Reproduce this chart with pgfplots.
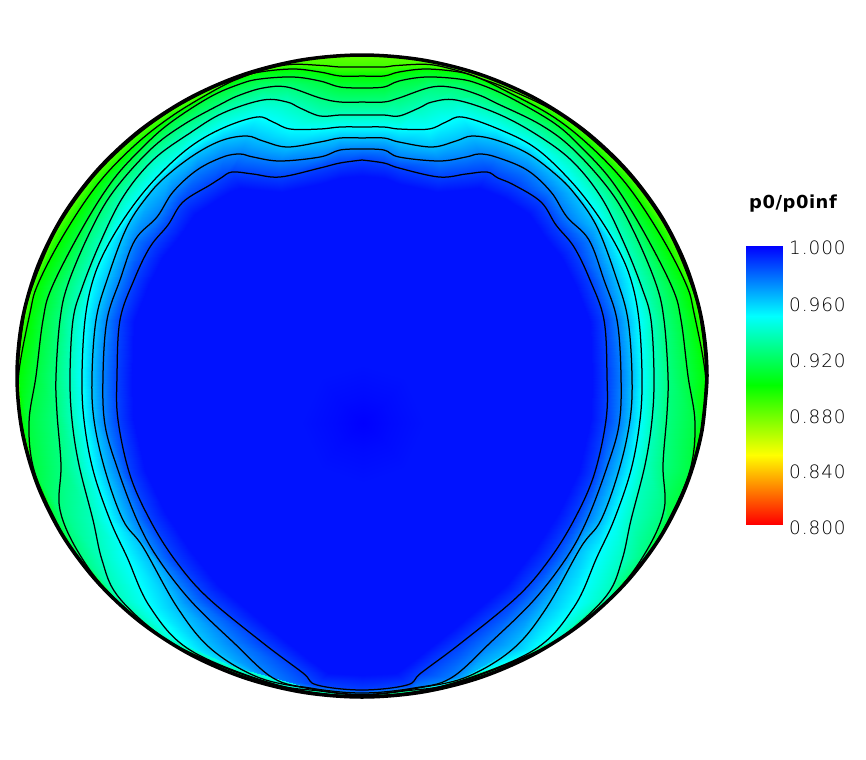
\documentclass[border=0pt]{standalone}
\usepackage{pgfplots}
\usepackage{pgfplotstable}
\usepackage{fontspec}
\setmainfont{DejaVu Sans}
\newfontfamily\thinf[LetterSpace=5]{DejaVu Sans ExtraLight}
\pgfplotsset{compat=1.18}
\pgfplotstableread[row sep=\\]{x y v\\
362 176 .9965\\340 178 .9965\\320 184 .9965\\282 192 .9965\\258 190 .9965\\240 188 .9965\\230 192 .9965\\220 198 .9965\\195 214 .9965\\180 236 .9965\\163 257 .9965\\148 286 .9965\\134 322 .9965\\132 376 .9965\\133 418 .9965\\145 470 .9965\\165 512 .9965\\190 550 .9965\\218 585 .9965\\272 630 .9965\\310 660 .9965\\328 673 .9965\\362 675 .9965\\
396 673 .9965\\414 660 .9965\\452 630 .9965\\506 585 .9965\\534 550 .9965\\559 512 .9965\\579 470 .9965\\591 418 .9965\\592 376 .9965\\590 322 .9965\\576 286 .9965\\561 257 .9965\\544 236 .9965\\529 214 .9965\\504 198 .9965\\489 192 .9965\\479 188 .9965\\461 190 .9965\\437 192 .9965\\399 184 .9965\\384 178 .9965\\362 176 .9965\\
}\Rzero
\pgfplotstableread[row sep=\\]{x y v\\
362 160 .9875\\340 163 .9875\\320 168 .9875\\280 177 .9875\\253 174 .9875\\232 172 .9875\\221 178 .9875\\210 185 .9875\\183 202 .9875\\168 225 .9875\\150 247 .9875\\134 280 .9875\\120 320 .9875\\117 376 .9875\\118 420 .9875\\130 475 .9875\\150 520 .9875\\175 560 .9875\\207 597 .9875\\263 643 .9875\\303 673 .9875\\317 685 .9875\\362 690 .9875\\
407 685 .9875\\421 673 .9875\\461 643 .9875\\517 597 .9875\\549 560 .9875\\574 520 .9875\\594 475 .9875\\606 420 .9875\\607 376 .9875\\604 320 .9875\\590 280 .9875\\574 247 .9875\\556 225 .9875\\541 202 .9875\\514 185 .9875\\498 178 .9875\\487 172 .9875\\466 174 .9875\\439 177 .9875\\399 168 .9875\\384 163 .9875\\362 160 .9875\\
}\Lone
\pgfplotstableread[row sep=\\]{x y v\\
362 149 .975\\340 150 .975\\320 157 .975\\280 161 .975\\253 157 .975\\240 154 .975\\223 157 .975\\197 170 .975\\173 192 .975\\157 217 .975\\135 240 .975\\120 280 .975\\107 320 .975\\103 376 .975\\105 425 .975\\118 470 .975\\137 520 .975\\157 557 .975\\190 600 .975\\233 642 .975\\273 678 .975\\310 688 .975\\362 693 .975\\
414 688 .975\\451 678 .975\\491 642 .975\\534 600 .975\\567 557 .975\\587 520 .975\\606 470 .975\\619 425 .975\\621 376 .975\\617 320 .975\\604 280 .975\\589 240 .975\\567 217 .975\\551 192 .975\\527 170 .975\\496 157 .975\\479 154 .975\\466 157 .975\\439 161 .975\\399 157 .975\\384 150 .975\\362 149 .975\\
}\Ltwo
\pgfplotstableread[row sep=\\]{x y v\\
362 138 .9625\\340 138 .9625\\320 142 .9625\\287 147 .9625\\263 141 .9625\\247 136 .9625\\223 140 .9625\\197 153 .9625\\170 173 .9625\\150 193 .9625\\127 227 .9625\\107 280 .9625\\96 320 .9625\\92 376 .9625\\94 420 .9625\\105 470 .9625\\123 520 .9625\\143 547 .9625\\177 607 .9625\\210 648 .9625\\255 676 .9625\\300 687 .9625\\362 694.5 .9625\\
424 687 .9625\\469 676 .9625\\514 648 .9625\\547 607 .9625\\581 547 .9625\\601 520 .9625\\619 470 .9625\\630 420 .9625\\632 376 .9625\\628 320 .9625\\617 280 .9625\\597 227 .9625\\574 193 .9625\\554 173 .9625\\527 153 .9625\\496 140 .9625\\472 136 .9625\\456 141 .9625\\432 147 .9625\\399 142 .9625\\384 138 .9625\\362 138 .9625\\
}\Lthree
\pgfplotstableread[row sep=\\]{x y v\\
362 127 .95\\340 127 .95\\320 129 .95\\290 129 .95\\273 122 .95\\257 117 .95\\223 128 .95\\190 147 .95\\157 177 .95\\130 210 .95\\107 247 .95\\93 280 .95\\85 320 .95\\82 376 .95\\84 420 .95\\93 470 .95\\110 520 .95\\127 557 .95\\150 607 .95\\190 650 .95\\270 683 .95\\320 691 .95\\362 695 .95\\
404 691 .95\\454 683 .95\\534 650 .95\\574 607 .95\\597 557 .95\\614 520 .95\\631 470 .95\\640 420 .95\\642 376 .95\\639 320 .95\\631 280 .95\\617 247 .95\\594 210 .95\\567 177 .95\\534 147 .95\\496 128 .95\\462 117 .95\\446 122 .95\\429 129 .95\\399 129 .95\\384 127 .95\\362 127 .95\\
}\Lfour
\pgfplotstableread[row sep=\\]{x y v\\
362 115 .9375\\340 115 .9375\\320 116 .9375\\300 108 .9375\\287 102 .9375\\263 100 .9375\\223 113 .9375\\190 133 .9375\\153 160 .9375\\123 197 .9375\\100 243 .9375\\82 288 .9375\\73 320 .9375\\70 376 .9375\\72 420 .9375\\79 465 .9375\\93 520 .9375\\102 560 .9375\\117 595 .9375\\157 633 .9375\\200 657 .9375\\280 686 .9375\\362 696 .9375\\
444 686 .9375\\524 657 .9375\\567 633 .9375\\607 595 .9375\\622 560 .9375\\631 520 .9375\\645 465 .9375\\652 420 .9375\\654 376 .9375\\651 320 .9375\\642 288 .9375\\624 243 .9375\\601 197 .9375\\571 160 .9375\\534 133 .9375\\496 113 .9375\\456 100 .9375\\432 102 .9375\\419 108 .9375\\399 116 .9375\\384 115 .9375\\362 115 .9375\\
}\Lfive
\pgfplotstableread[row sep=\\]{x y v\\
362 102 .925\\340 102 .925\\320 98 .925\\287 87 .925\\263 88 .925\\240 95 .925\\223 103 .925\\183 125 .925\\150 150 .925\\113 192 .925\\90 232 .925\\68 284 .925\\60 320 .925\\56 376 .925\\57 413 .925\\61 465 .925\\60 510 .925\\80 555 .925\\113 597 .925\\168 641 .925\\228 669 .925\\300 690.5 .925\\362 696 .925\\
424 690.5 .925\\496 669 .925\\556 641 .925\\611 597 .925\\644 555 .925\\664 510 .925\\663 465 .925\\667 413 .925\\668 376 .925\\664 320 .925\\656 284 .925\\634 232 .925\\611 192 .925\\574 150 .925\\541 125 .925\\496 103 .925\\479 95 .925\\456 88 .925\\432 87 .925\\399 98 .925\\384 102 .925\\362 102 .925\\
}\Lsix
\pgfplotstableread[row sep=\\]{x y v\\
362 88 .9125\\340 87 .9125\\320 81 .9125\\293 77 .9125\\260 79 .9125\\240 84 .9125\\210 97 .9125\\170 123 .9125\\143 147 .9125\\113 180 .9125\\83 227 .9125\\52 287 .9125\\43 320 .9125\\36 376 .9125\\29 423 .9125\\34 470 .9125\\56 521 .9125\\78 556 .9125\\116 600 .9125\\167 640.5 .9125\\225 670 .9125\\300 691 .9125\\362 696.5 .9125\\
424 691 .9125\\499 670 .9125\\557 640.5 .9125\\608 600 .9125\\646 556 .9125\\668 521 .9125\\690 470 .9125\\695 423 .9125\\688 376 .9125\\681 320 .9125\\672 287 .9125\\641 227 .9125\\611 180 .9125\\581 147 .9125\\554 123 .9125\\509 97 .9125\\479 84 .9125\\459 79 .9125\\426 77 .9125\\399 81 .9125\\384 87 .9125\\362 88 .9125\\
}\Lseven
\pgfplotstableread[row sep=\\]{x y v\\
362 76 .9\\340 76 .9\\320 72 .9\\293 69 .9\\260 72 .9\\240 78 .9\\215 90 .9\\172 116 .9\\134 146 .9\\97 185 .9\\63 236 .9\\38 284 .9\\30 313 .9\\18.5 376 .9\\21 420 .9\\34 472 .9\\55 521 .9\\77 556 .9\\115.5 600 .9\\166.5 640.5 .9\\224.5 670 .9\\300 691.5 .9\\362 696.5 .9\\
424 691.5 .9\\499.5 670 .9\\557.5 640.5 .9\\608.5 600 .9\\647 556 .9\\669 521 .9\\690 472 .9\\703 420 .9\\705.5 376 .9\\694 313 .9\\686 284 .9\\661 236 .9\\627 185 .9\\590 146 .9\\552 116 .9\\504 90 .9\\479 78 .9\\459 72 .9\\426 69 .9\\399 72 .9\\384 76 .9\\362 76 .9\\
}\Leight
\pgfplotstableread[row sep=\\]{x y v\\
362 67 .8875\\340 67 .8875\\322 65.5 .8875\\290 64.5 .8875\\262 70.5 .8875\\237 79 .8875\\212 88.5 .8875\\171 110.5 .8875\\131 140 .8875\\91 180 .8875\\56 231 .8875\\31 290 .8875\\22.5 327 .8875\\18 376 .8875\\20.5 420 .8875\\33.5 472 .8875\\54.5 520.5 .8875\\76.5 555.5 .8875\\115 600 .8875\\166 640 .8875\\224 670 .8875\\300 691.5 .8875\\362 696.5 .8875\\
424 691.5 .8875\\500 670 .8875\\558 640 .8875\\609 600 .8875\\647.5 555.5 .8875\\669.5 520.5 .8875\\690.5 472 .8875\\703.5 420 .8875\\706 376 .8875\\701.5 327 .8875\\693 290 .8875\\668 231 .8875\\633 180 .8875\\593 140 .8875\\553 110.5 .8875\\507 88.5 .8875\\482 79 .8875\\457 70.5 .8875\\429 64.5 .8875\\397 65.5 .8875\\384 67 .8875\\362 67 .8875\\
}\Lnine
\pgfplotstableread[row sep=\\]{x y v\\
362 55 .880\\340 55.3 .881\\320 57.4 .882\\285 63.1 .884\\260 69.3 .884\\235 77.5 .885\\210 87.8 .885\\170 109.3 .885\\130 138.4 .885\\90 178.5 .885\\55 229.6 .885\\30 290 .885\\21 327 .887\\17 376 .895\\20 420 .895\\33 472 .905\\54 520 .915\\76 555 .92\\115 600 .935\\166 640 .945\\224 670 .955\\300 692 .96\\362 697 .965\\
424 692 .96\\500 670 .955\\558 640 .945\\609 600 .935\\648 555 .92\\670 520 .915\\691 472 .905\\704 420 .895\\707 376 .895\\703 327 .887\\694 290 .885\\669 229.6 .885\\634 178.5 .885\\594 138.4 .885\\554 109.3 .885\\514 87.8 .885\\489 77.5 .885\\464 69.3 .884\\439 63.1 .884\\404 57.4 .882\\384 55.3 .881\\362 55 .880\\
}\Bound
\pgfplotstableread[row sep=\\]{x y\\
707 376\\701.8 431.7\\686.2 485.8\\660.8 536.5\\626.3 582.3\\583.8 621.9\\534.5 654\\480 677.6\\421.9 692.1\\362 697\\302.1 692.1\\244 677.6\\189.5 654\\140.2 621.9\\97.7 582.3\\63.2 536.5\\37.8 485.8\\22.2 431.7\\17 376\\22.2 320.3\\37.8 266.2\\63.2 215.5\\97.7 169.7\\140.2 130.1\\189.5 98\\244 74.4\\302.1 59.9\\362 55\\421.9 59.9\\480 74.4\\534.5 98\\583.8 130.1\\626.3 169.7\\660.8 215.5\\686.2 266.2\\701.8 320.3\\707 376\\701.8 431.7\\
}\Rim
\pgfplotstablevertcat{\Mesh}{\Rzero}
\pgfplotstablevertcat{\Mesh}{\Lone}
\pgfplotstablevertcat{\Mesh}{\Ltwo}
\pgfplotstablevertcat{\Mesh}{\Lthree}
\pgfplotstablevertcat{\Mesh}{\Lfour}
\pgfplotstablevertcat{\Mesh}{\Lfive}
\pgfplotstablevertcat{\Mesh}{\Lsix}
\pgfplotstablevertcat{\Mesh}{\Lseven}
\pgfplotstablevertcat{\Mesh}{\Leight}
\pgfplotstablevertcat{\Mesh}{\Lnine}
\pgfplotstablevertcat{\Mesh}{\Bound}
\pgfplotstableread[row sep=\\]{x y v\\
363 423 1\\363 423 1\\363 423 1\\363 423 1\\363 423 1\\363 423 1\\363 423 1\\363 423 1\\363 423 1\\
363 395 .998\\385 403 .998\\393 423 .998\\385 443 .998\\363 451 .998\\341 443 .998\\333 423 .998\\341 403 .998\\363 395 .998\\
363 365 .9965\\405 378 .9965\\425 423 .9965\\405 468 .9965\\363 483 .9965\\321 468 .9965\\301 423 .9965\\321 378 .9965\\363 365 .9965\\
}\Blob
\pgfplotstableread[row sep=\\]{x y v\\
746 524 .8\\782 524 .8\\746 454.5 .85\\782 454.5 .85\\746 385 .9\\782 385 .9\\746 315.5 .95\\782 315.5 .95\\746 246 1\\782 246 1\\
}\Bar
\begin{document}
\begin{tikzpicture}
\path[use as bounding box] (0,0) rectangle (866bp,760bp);
\begin{axis}[
  scale only axis, width=866bp, height=760bp,
  xmin=0, xmax=866, ymin=0, ymax=760, y dir=reverse,
  hide axis, clip=false,
  anchor=south west, at={(0,0)},
  colormap={tec}{rgb255(0)=(255,0,0) rgb255(5)=(255,255,0) rgb255(10)=(0,255,0) rgb255(15)=(0,255,255) rgb255(20)=(0,0,255)},
  point meta min=.8, point meta max=1,
]
\addplot[draw={rgb,255:red,0;green,18;blue,255}, line width=5bp, fill={rgb,255:red,0;green,18;blue,255}, forget plot] table[x=x,y=y] {\Rzero};
\addplot[surf, shader=interp, mesh/cols=9, point meta=\thisrow{v}, forget plot] table[x=x,y=y] {\Blob};
\addplot[surf, shader=interp, mesh/cols=45, point meta=\thisrow{v}, forget plot] table[x=x,y=y] {\Mesh};
\addplot[black, line width=1.25bp, smooth, tension=.6, no marks, forget plot] table[x=x,y=y] {\Lone};
\addplot[black, line width=1.25bp, smooth, tension=.6, no marks, forget plot] table[x=x,y=y] {\Ltwo};
\addplot[black, line width=1.25bp, smooth, tension=.6, no marks, forget plot] table[x=x,y=y] {\Lthree};
\addplot[black, line width=1.25bp, smooth, tension=.6, no marks, forget plot] table[x=x,y=y] {\Lfour};
\addplot[black, line width=1.25bp, smooth, tension=.6, no marks, forget plot] table[x=x,y=y] {\Lfive};
\addplot[black, line width=1.25bp, smooth, tension=.6, no marks, forget plot] table[x=x,y=y] {\Lsix};
\addplot[black, line width=1.25bp, smooth, tension=.6, no marks, forget plot] table[x=x,y=y] {\Lseven};
\addplot[black, line width=1.25bp, smooth, tension=.6, no marks, forget plot] table[x=x,y=y] {\Leight};
\addplot[black, line width=1.25bp, smooth, tension=.6, no marks, forget plot] table[x=x,y=y] {\Lnine};
\addplot[black, line width=3.5bp, smooth, tension=.55, no marks, forget plot] table[x=x,y=y] {\Rim};
\addplot[surf, shader=interp, mesh/cols=2, point meta=\thisrow{v}, forget plot] table[x=x,y=y] {\Bar};
\node[anchor=center, font=\bfseries\fontsize{18}{20}\selectfont\addfontfeature{LetterSpace=3}] at (axis cs:793,204) {p0/p0inf};
\node[anchor=west, text=black, inner sep=0pt, font=\thinf\fontsize{18.5}{20}\selectfont] at (axis cs:789,248) {1.000};
\node[anchor=west, text=black, inner sep=0pt, font=\thinf\fontsize{18.5}{20}\selectfont] at (axis cs:789,305) {0.960};
\node[anchor=west, text=black, inner sep=0pt, font=\thinf\fontsize{18.5}{20}\selectfont] at (axis cs:789,361) {0.920};
\node[anchor=west, text=black, inner sep=0pt, font=\thinf\fontsize{18.5}{20}\selectfont] at (axis cs:789,417) {0.880};
\node[anchor=west, text=black, inner sep=0pt, font=\thinf\fontsize{18.5}{20}\selectfont] at (axis cs:789,472) {0.840};
\node[anchor=west, text=black, inner sep=0pt, font=\thinf\fontsize{18.5}{20}\selectfont] at (axis cs:789,528) {0.800};
\end{axis}
\end{tikzpicture}
\end{document}
